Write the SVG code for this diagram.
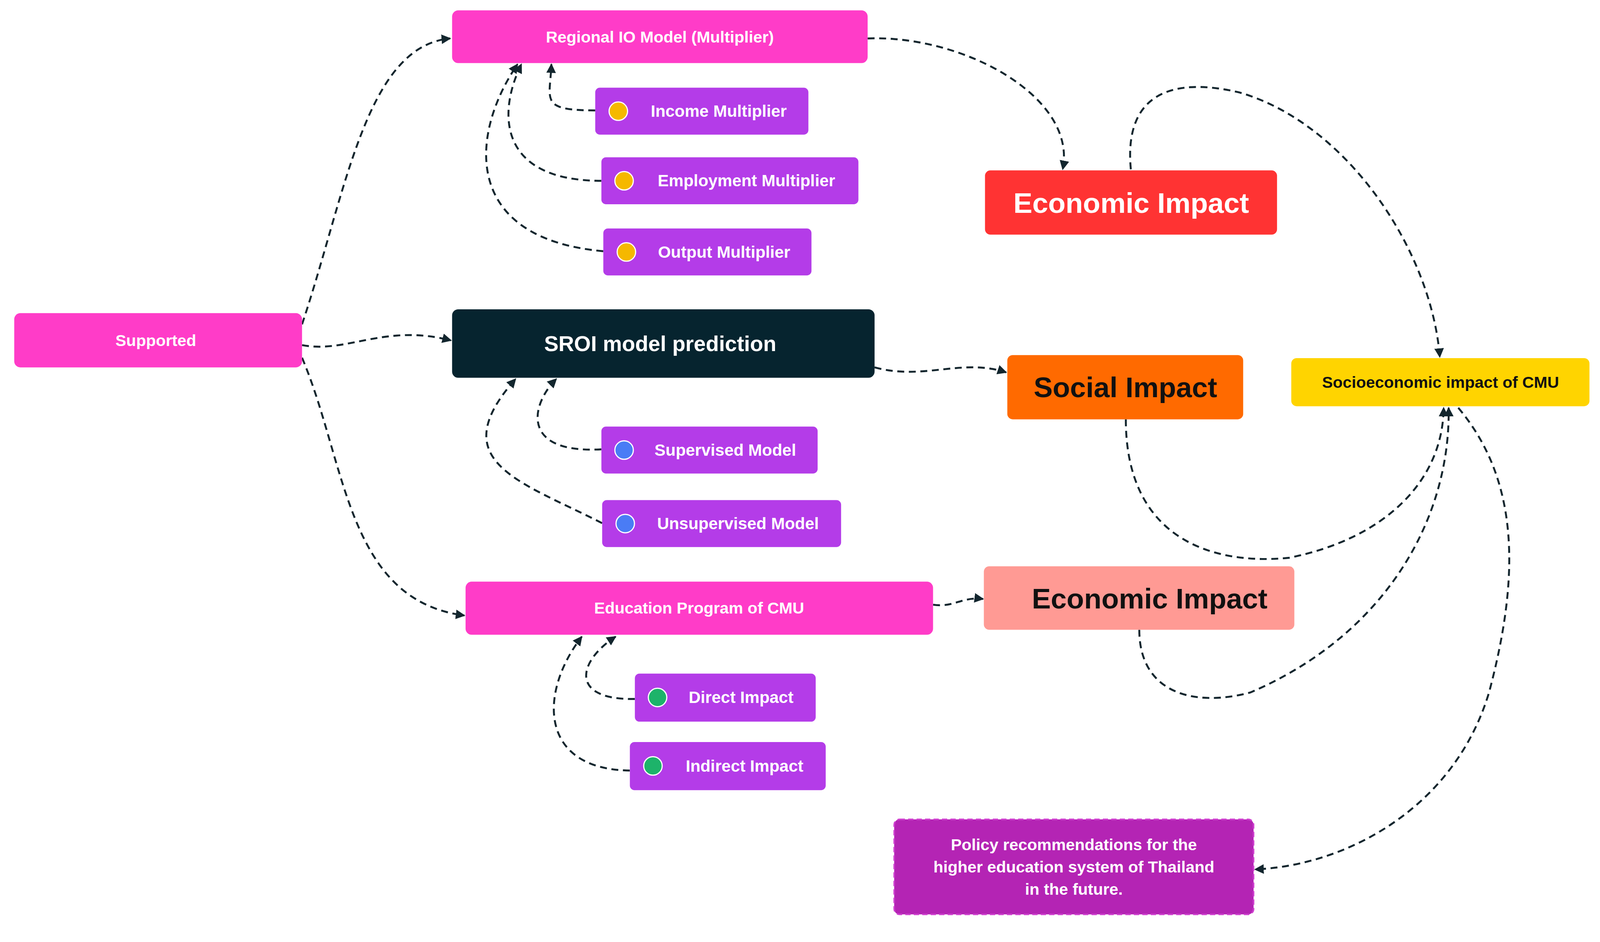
<svg xmlns="http://www.w3.org/2000/svg" width="4160" height="2412" viewBox="0 0 4160 2412">
<style>
text{font-family:"Liberation Sans",Arial,sans-serif;font-weight:bold;fill:#fff;text-anchor:middle;dominant-baseline:central}
.pink{fill:#ff3cc8}.sub{fill:#b43ce8}
.c{fill:none;stroke:#13262e;stroke-width:5;stroke-dasharray:18 12}
.s{font-size:43px}.b{font-size:74px}
</style>
<defs><marker id="a" viewBox="0 0 10 10" refX="9" refY="5" markerWidth="5" markerHeight="5" orient="auto"><path d="M0,0L10,5L0,10z" fill="#13262e"/></marker></defs>
<g transform="scale(0.985)">
<g id="connectors">
<path class="c" marker-end="url(#a)" d="M785,843 C900,500 950,120 1170,100"/>
<path class="c" marker-end="url(#a)" d="M785,897 C900,920 1000,840 1172,885"/>
<path class="c" marker-end="url(#a)" d="M785,930 C900,1200 900,1560 1207,1600"/>
<path class="c" marker-end="url(#a)" d="M2255,100 C2500,90 2800,250 2762,440"/>
<path class="c" marker-end="url(#a)" d="M1547,287 C1400,287 1430,260 1433,167"/>
<path class="c" marker-end="url(#a)" d="M1563,470 C1300,470 1290,300 1355,167"/>
<path class="c" marker-end="url(#a)" d="M1568,653 C1200,620 1220,350 1345,167"/>
<path class="c" marker-end="url(#a)" d="M2273,955 C2400,990 2500,930 2615,968"/>
<path class="c" marker-end="url(#a)" d="M1563,1168 C1350,1180 1380,1050 1446,985"/>
<path class="c" marker-end="url(#a)" d="M1565,1360 C1350,1250 1150,1200 1340,985"/>
<path class="c" marker-end="url(#a)" d="M2425,1572 C2480,1580 2500,1550 2555,1557"/>
<path class="c" marker-end="url(#a)" d="M1650,1817 C1480,1820 1500,1720 1600,1655"/>
<path class="c" marker-end="url(#a)" d="M1637,2003 C1400,2000 1400,1800 1512,1655"/>
<path class="c" marker-end="url(#a)" d="M2939,440 C2920,240 3050,200 3220,240 C3500,320 3720,650 3742,928"/>
<path class="c" marker-end="url(#a)" d="M2926,1090 C2926,1400 3150,1470 3350,1450 C3600,1400 3750,1250 3752,1060"/>
<path class="c" marker-end="url(#a)" d="M2961,1637 C2961,1800 3100,1840 3250,1800 C3600,1650 3770,1350 3765,1060"/>
<path class="c" marker-end="url(#a)" d="M3790,1060 C3950,1250 3950,1500 3870,1800 C3780,2100 3500,2250 3262,2260"/>
</g>
<g id="regional"><rect class="pink" x="1175" y="27" width="1080" height="137" rx="16"/><text x="1715" y="96" font-size="42">Regional IO Model (Multiplier)</text></g>
<g id="income"><rect class="sub" x="1547" y="228" width="554" height="122" rx="12"/><circle cx="1607" cy="289" r="24" fill="#f5b800" stroke="#fff" stroke-width="3"/><text class="s" x="1868" y="289">Income Multiplier</text></g>
<g id="employment"><rect class="sub" x="1563" y="409" width="668" height="122" rx="12"/><circle cx="1622" cy="470" r="24" fill="#f5b800" stroke="#fff" stroke-width="3"/><text class="s" x="1940" y="470">Employment Multiplier</text></g>
<g id="output"><rect class="sub" x="1568" y="594" width="541" height="122" rx="12"/><circle cx="1628" cy="655" r="24" fill="#f5b800" stroke="#fff" stroke-width="3"/><text class="s" x="1882" y="655">Output Multiplier</text></g>
<g id="econ1"><rect x="2560" y="443" width="759" height="167" rx="14" fill="#ff3333"/><text class="b" x="2940" y="527">Economic Impact</text></g>
<g id="supported"><rect class="pink" x="37" y="814" width="748" height="141" rx="16"/><text x="405" y="885" font-size="42">Supported</text></g>
<g id="sroi"><rect x="1175" y="804" width="1098" height="178" rx="16" fill="#06242f"/><text x="1716" y="893" font-size="56">SROI model prediction</text></g>
<g id="social"><rect x="2618" y="923" width="613" height="167" rx="14" fill="#ff6a00"/><text class="b" x="2925" y="1007" style="fill:#111">Social Impact</text></g>
<g id="socio"><rect x="3356" y="931" width="775" height="125" rx="14" fill="#ffd400"/><text x="3744" y="994" font-size="42" style="fill:#111">Socioeconomic impact of CMU</text></g>
<g id="supervised"><rect class="sub" x="1563" y="1109" width="562" height="122" rx="12"/><circle cx="1622" cy="1170" r="24" fill="#4a7cf5" stroke="#fff" stroke-width="3"/><text class="s" x="1885" y="1170">Supervised Model</text></g>
<g id="unsupervised"><rect class="sub" x="1565" y="1300" width="621" height="122" rx="12"/><circle cx="1625" cy="1361" r="24" fill="#4a7cf5" stroke="#fff" stroke-width="3"/><text class="s" x="1918" y="1361">Unsupervised Model</text></g>
<g id="education"><rect class="pink" x="1210" y="1512" width="1215" height="138" rx="16"/><text x="1817" y="1581" font-size="42">Education Program of CMU</text></g>
<g id="econ2"><rect x="2557" y="1472" width="807" height="165" rx="14" fill="#ff9a94"/><text class="b" x="2988" y="1556" style="fill:#111">Economic Impact</text></g>
<g id="direct"><rect class="sub" x="1650" y="1751" width="470" height="125" rx="12"/><circle cx="1709" cy="1813" r="24" fill="#1db36a" stroke="#fff" stroke-width="3"/><text class="s" x="1926" y="1813">Direct Impact</text></g>
<g id="indirect"><rect class="sub" x="1637" y="1929" width="509" height="125" rx="12"/><circle cx="1697" cy="1991" r="24" fill="#1db36a" stroke="#fff" stroke-width="3"/><text class="s" x="1935" y="1991">Indirect Impact</text></g>
<g id="policy"><rect x="2324" y="2130" width="934" height="247" rx="14" fill="#b424b4" stroke="#d040d0" stroke-width="4" stroke-dasharray="14 8"/><text x="2791" y="2196" font-size="42">Policy recommendations for the</text><text x="2791" y="2254" font-size="42">higher education system of Thailand</text><text x="2791" y="2312" font-size="42">in the future.</text></g>
</g>
</svg>
